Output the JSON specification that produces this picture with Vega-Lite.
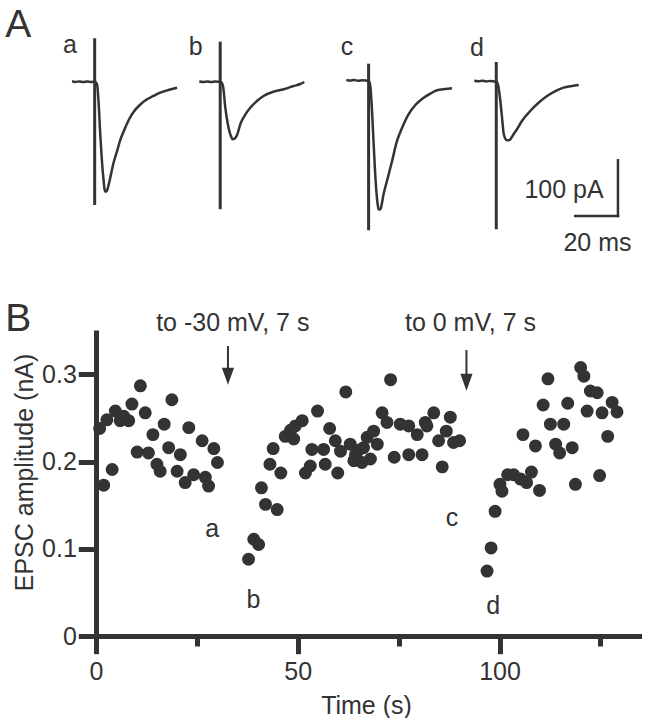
{
  "$schema": "https://vega.github.io/schema/vega-lite/v6.json",
  "padding": {"left": 5, "top": 5, "right": 0, "bottom": 0},
  "background": "white",
  "bounds": "flush",
  "spacing": 69,
  "config": {
    "view": {"stroke": null},
    "font": "Liberation Sans",
    "axis": {"labelFont": "Liberation Sans", "titleFont": "Liberation Sans", "grid": false}
  },
  "datasets": {
    "traces": [
      {"sweep": "a", "t": 33.6, "pA": -0.5}, {"sweep": "a", "t": 35.1, "pA": -1.6}, {"sweep": "a", "t": 37.0, "pA": -0.7}, {"sweep": "a", "t": 38.9, "pA": -1.8}, {"sweep": "a", "t": 40.7, "pA": -0.9}, {"sweep": "a", "t": 42.6, "pA": -1.6}, {"sweep": "a", "t": 44.3, "pA": -1.4}, {"sweep": "a", "t": 45.3, "pA": -5.9}, {"sweep": "a", "t": 46.0, "pA": -35.9}, {"sweep": "a", "t": 46.8, "pA": -95.2}, {"sweep": "a", "t": 47.6, "pA": -143.6}, {"sweep": "a", "t": 48.4, "pA": -179.5}, {"sweep": "a", "t": 48.8, "pA": -193.9}, {"sweep": "a", "t": 49.3, "pA": -198.7}, {"sweep": "a", "t": 49.9, "pA": -197.5}, {"sweep": "a", "t": 50.6, "pA": -188.5}, {"sweep": "a", "t": 51.5, "pA": -173.6}, {"sweep": "a", "t": 52.9, "pA": -149.0}, {"sweep": "a", "t": 54.7, "pA": -125.7}, {"sweep": "a", "t": 56.2, "pA": -105.9}, {"sweep": "a", "t": 58.5, "pA": -83.8}, {"sweep": "a", "t": 60.4, "pA": -68.2}, {"sweep": "a", "t": 62.4, "pA": -55.7}, {"sweep": "a", "t": 65.6, "pA": -42.2}, {"sweep": "a", "t": 68.7, "pA": -32.9}, {"sweep": "a", "t": 71.7, "pA": -26.9}, {"sweep": "a", "t": 74.9, "pA": -21.0}, {"sweep": "a", "t": 78.7, "pA": -16.2}, {"sweep": "a", "t": 82.8, "pA": -12.0},
      {"sweep": "b", "t": 93.2, "pA": -0.9}, {"sweep": "b", "t": 95.1, "pA": -1.8}, {"sweep": "b", "t": 97.0, "pA": -0.7}, {"sweep": "b", "t": 98.8, "pA": -2.0}, {"sweep": "b", "t": 100.7, "pA": -1.1}, {"sweep": "b", "t": 103.3, "pA": -1.8}, {"sweep": "b", "t": 104.3, "pA": -9.0}, {"sweep": "b", "t": 105.4, "pA": -47.9}, {"sweep": "b", "t": 106.9, "pA": -83.8}, {"sweep": "b", "t": 108.0, "pA": -98.7}, {"sweep": "b", "t": 108.8, "pA": -104.7}, {"sweep": "b", "t": 109.8, "pA": -103.2}, {"sweep": "b", "t": 110.9, "pA": -96.9}, {"sweep": "b", "t": 112.4, "pA": -77.7}, {"sweep": "b", "t": 114.8, "pA": -59.8}, {"sweep": "b", "t": 117.1, "pA": -47.9}, {"sweep": "b", "t": 120.2, "pA": -35.9}, {"sweep": "b", "t": 123.3, "pA": -26.9}, {"sweep": "b", "t": 128.0, "pA": -19.2}, {"sweep": "b", "t": 132.7, "pA": -14.9}, {"sweep": "b", "t": 137.4, "pA": -9.0}, {"sweep": "b", "t": 140.5, "pA": -5.4}, {"sweep": "b", "t": 142.4, "pA": -1.8},
      {"sweep": "c", "t": 162.1, "pA": 1.8}, {"sweep": "c", "t": 163.9, "pA": 0.7}, {"sweep": "c", "t": 165.8, "pA": 1.6}, {"sweep": "c", "t": 167.7, "pA": 0.5}, {"sweep": "c", "t": 169.6, "pA": 1.4}, {"sweep": "c", "t": 171.4, "pA": 0.7}, {"sweep": "c", "t": 172.6, "pA": 0.0}, {"sweep": "c", "t": 173.3, "pA": -9.0}, {"sweep": "c", "t": 174.1, "pA": -53.9}, {"sweep": "c", "t": 174.8, "pA": -107.7}, {"sweep": "c", "t": 175.6, "pA": -167.5}, {"sweep": "c", "t": 176.4, "pA": -209.5}, {"sweep": "c", "t": 176.8, "pA": -222.6}, {"sweep": "c", "t": 177.2, "pA": -230.3}, {"sweep": "c", "t": 177.8, "pA": -230.7}, {"sweep": "c", "t": 178.3, "pA": -227.5}, {"sweep": "c", "t": 179.5, "pA": -203.4}, {"sweep": "c", "t": 181.1, "pA": -179.5}, {"sweep": "c", "t": 183.5, "pA": -143.6}, {"sweep": "c", "t": 185.8, "pA": -107.7}, {"sweep": "c", "t": 188.2, "pA": -83.8}, {"sweep": "c", "t": 191.2, "pA": -59.8}, {"sweep": "c", "t": 194.4, "pA": -43.1}, {"sweep": "c", "t": 198.3, "pA": -30.0}, {"sweep": "c", "t": 201.4, "pA": -22.8}, {"sweep": "c", "t": 204.5, "pA": -16.7}, {"sweep": "c", "t": 208.4, "pA": -14.4}, {"sweep": "c", "t": 211.6, "pA": -13.1},
      {"sweep": "d", "t": 222.0, "pA": 0.4}, {"sweep": "d", "t": 223.9, "pA": -0.5}, {"sweep": "d", "t": 225.8, "pA": 0.5}, {"sweep": "d", "t": 227.6, "pA": -0.7}, {"sweep": "d", "t": 229.5, "pA": 0.2}, {"sweep": "d", "t": 231.4, "pA": -0.9}, {"sweep": "d", "t": 232.6, "pA": -1.8}, {"sweep": "d", "t": 233.4, "pA": -12.0}, {"sweep": "d", "t": 234.2, "pA": -35.9}, {"sweep": "d", "t": 235.0, "pA": -65.9}, {"sweep": "d", "t": 235.7, "pA": -92.8}, {"sweep": "d", "t": 236.5, "pA": -103.2}, {"sweep": "d", "t": 237.3, "pA": -106.5}, {"sweep": "d", "t": 238.2, "pA": -106.5}, {"sweep": "d", "t": 238.9, "pA": -104.7}, {"sweep": "d", "t": 240.4, "pA": -95.7}, {"sweep": "d", "t": 242.0, "pA": -86.7}, {"sweep": "d", "t": 244.3, "pA": -71.8}, {"sweep": "d", "t": 248.2, "pA": -53.9}, {"sweep": "d", "t": 252.1, "pA": -39.0}, {"sweep": "d", "t": 256.1, "pA": -26.9}, {"sweep": "d", "t": 260.0, "pA": -18.0}, {"sweep": "d", "t": 263.8, "pA": -12.0}, {"sweep": "d", "t": 267.8, "pA": -9.0}, {"sweep": "d", "t": 270.9, "pA": -7.2}
    ],
    "artifacts": [
      {"sweep": "a", "t": 44.2, "top": 76.7, "bottom": -222.6},
      {"sweep": "b", "t": 103.0, "top": 70.6, "bottom": -230.3},
      {"sweep": "c", "t": 172.5, "top": 31.1, "bottom": -268.0},
      {"sweep": "d", "t": 232.3, "top": 34.1, "bottom": -266.2}
    ],
    "scalebar": [
      {"t1": 289.3, "t2": 289.3, "p1": -142.4, "p2": -242.4},
      {"t1": 269.3, "t2": 289.3, "p1": -242.4, "p2": -242.4}
    ],
    "sweepLabels": [
      {"t": 32.6, "pA": 50.8, "text": "a"},
      {"t": 91.5, "pA": 46.7, "text": "b"},
      {"t": 162.4, "pA": 46.1, "text": "c"},
      {"t": 223.3, "pA": 44.9, "text": "d"}
    ],
    "scatter": [
      {"t": 0.9, "amp": 0.238}, {"t": 1.9, "amp": 0.173}, {"t": 4.0, "amp": 0.191}, {"t": 2.7, "amp": 0.248}, {"t": 4.8, "amp": 0.258}, {"t": 6.0, "amp": 0.247}, {"t": 6.9, "amp": 0.252}, {"t": 8.1, "amp": 0.247}, {"t": 8.9, "amp": 0.266}, {"t": 11.0, "amp": 0.287}, {"t": 12.2, "amp": 0.256}, {"t": 10.2, "amp": 0.211}, {"t": 13.0, "amp": 0.21}, {"t": 14.1, "amp": 0.231}, {"t": 16.9, "amp": 0.243}, {"t": 15.1, "amp": 0.197}, {"t": 15.9, "amp": 0.189}, {"t": 18.8, "amp": 0.271}, {"t": 18.0, "amp": 0.216}, {"t": 20.9, "amp": 0.208}, {"t": 20.1, "amp": 0.189}, {"t": 23.0, "amp": 0.239}, {"t": 22.1, "amp": 0.176}, {"t": 24.2, "amp": 0.185}, {"t": 26.3, "amp": 0.224}, {"t": 27.1, "amp": 0.182}, {"t": 29.2, "amp": 0.215}, {"t": 27.9, "amp": 0.172}, {"t": 30.1, "amp": 0.199},
      {"t": 37.8, "amp": 0.088}, {"t": 39.1, "amp": 0.111}, {"t": 40.3, "amp": 0.105}, {"t": 41.0, "amp": 0.17}, {"t": 42.0, "amp": 0.151}, {"t": 44.9, "amp": 0.145}, {"t": 43.1, "amp": 0.197}, {"t": 45.8, "amp": 0.187}, {"t": 43.9, "amp": 0.215}, {"t": 46.9, "amp": 0.229}, {"t": 48.2, "amp": 0.236}, {"t": 49.0, "amp": 0.226}, {"t": 49.4, "amp": 0.241}, {"t": 51.1, "amp": 0.247}, {"t": 54.9, "amp": 0.258}, {"t": 51.9, "amp": 0.187}, {"t": 53.1, "amp": 0.195}, {"t": 53.5, "amp": 0.214}, {"t": 56.4, "amp": 0.214}, {"t": 56.8, "amp": 0.197}, {"t": 57.9, "amp": 0.238}, {"t": 59.3, "amp": 0.224}, {"t": 59.9, "amp": 0.187}, {"t": 60.6, "amp": 0.212}, {"t": 61.9, "amp": 0.28}, {"t": 63.0, "amp": 0.22}, {"t": 64.3, "amp": 0.208}, {"t": 63.9, "amp": 0.201}, {"t": 65.0, "amp": 0.213}, {"t": 65.9, "amp": 0.199}, {"t": 66.3, "amp": 0.216}, {"t": 67.2, "amp": 0.228}, {"t": 68.0, "amp": 0.203}, {"t": 68.8, "amp": 0.235}, {"t": 69.7, "amp": 0.22}, {"t": 70.9, "amp": 0.256}, {"t": 72.1, "amp": 0.245}, {"t": 73.0, "amp": 0.294}, {"t": 73.9, "amp": 0.205}, {"t": 75.4, "amp": 0.243}, {"t": 77.5, "amp": 0.241}, {"t": 77.5, "amp": 0.208}, {"t": 79.6, "amp": 0.231}, {"t": 80.8, "amp": 0.208}, {"t": 81.6, "amp": 0.245}, {"t": 82.0, "amp": 0.241}, {"t": 83.7, "amp": 0.256}, {"t": 84.9, "amp": 0.224}, {"t": 85.8, "amp": 0.194}, {"t": 86.8, "amp": 0.235}, {"t": 87.8, "amp": 0.251}, {"t": 88.6, "amp": 0.222}, {"t": 90.1, "amp": 0.224},
      {"t": 96.9, "amp": 0.0745}, {"t": 97.9, "amp": 0.101}, {"t": 98.9, "amp": 0.143}, {"t": 100.1, "amp": 0.174}, {"t": 100.6, "amp": 0.166}, {"t": 102.0, "amp": 0.185}, {"t": 103.5, "amp": 0.185}, {"t": 105.2, "amp": 0.18}, {"t": 106.7, "amp": 0.176}, {"t": 107.9, "amp": 0.188}, {"t": 109.9, "amp": 0.167}, {"t": 105.8, "amp": 0.231}, {"t": 108.9, "amp": 0.218}, {"t": 110.8, "amp": 0.265}, {"t": 112.0, "amp": 0.295}, {"t": 112.6, "amp": 0.243}, {"t": 113.9, "amp": 0.22}, {"t": 114.9, "amp": 0.21}, {"t": 115.9, "amp": 0.243}, {"t": 116.9, "amp": 0.267}, {"t": 118.0, "amp": 0.216}, {"t": 118.8, "amp": 0.174}, {"t": 120.1, "amp": 0.308}, {"t": 120.9, "amp": 0.298}, {"t": 122.5, "amp": 0.281}, {"t": 124.2, "amp": 0.279}, {"t": 121.7, "amp": 0.258}, {"t": 125.4, "amp": 0.256}, {"t": 127.9, "amp": 0.268}, {"t": 129.1, "amp": 0.257}, {"t": 126.8, "amp": 0.229}, {"t": 124.8, "amp": 0.184}
    ],
    "arrows": [
      {"t": 32.7, "top": 0.3326, "bottom": 0.3, "head": 0.2979},
      {"t": 91.8, "top": 0.328, "bottom": 0.295, "head": 0.291}
    ],
    "notesB": [
      {"t": 28.8, "amp": 0.1135, "text": "a"},
      {"t": 39.0, "amp": 0.032, "text": "b"},
      {"t": 88.2, "amp": 0.126, "text": "c"},
      {"t": 98.4, "amp": 0.0256, "text": "d"},
      {"t": 33.9, "amp": 0.3498, "text": "to -30 mV, 7 s"},
      {"t": 92.8, "amp": 0.3498, "text": "to 0 mV, 7 s"}
    ]
  },
  "vconcat": [
    {
      "width": 546,
      "height": 240,
      "layer": [
        {
          "data": {"name": "traces"},
          "mark": {"type": "line", "color": "#333333", "strokeWidth": 2.5, "interpolate": "monotone"},
          "encoding": {
            "x": {"field": "t", "type": "quantitative", "scale": {"domain": [44.82, 300.56], "nice": false, "zero": false}, "axis": null},
            "y": {"field": "pA", "type": "quantitative", "scale": {"domain": [-323.2, 107.7], "nice": false, "zero": false}, "axis": null},
            "detail": {"field": "sweep"}
          }
        },
        {
          "data": {"name": "artifacts"},
          "mark": {"type": "rule", "color": "#333333", "strokeWidth": 3},
          "encoding": {
            "x": {"field": "t", "type": "quantitative"},
            "y": {"field": "top", "type": "quantitative"},
            "y2": {"field": "bottom"}
          }
        },
        {
          "data": {"name": "scalebar"},
          "mark": {"type": "rule", "color": "#333333", "strokeWidth": 2.5, "strokeCap": "square"},
          "encoding": {
            "x": {"field": "t1", "type": "quantitative"},
            "x2": {"field": "t2"},
            "y": {"field": "p1", "type": "quantitative"},
            "y2": {"field": "p2"}
          }
        },
        {
          "data": {"name": "sweepLabels"},
          "mark": {"type": "text", "fontSize": 25, "color": "#333333", "align": "center", "baseline": "alphabetic"},
          "encoding": {
            "x": {"field": "t", "type": "quantitative"},
            "y": {"field": "pA", "type": "quantitative"},
            "text": {"field": "text"}
          }
        },
        {
          "data": {"values": [{"t": 282.6, "pA": -209.5, "text": "100 pA"}]},
          "mark": {"type": "text", "fontSize": 25, "color": "#333333", "align": "right", "baseline": "alphabetic"},
          "encoding": {
            "x": {"field": "t", "type": "quantitative"},
            "y": {"field": "pA", "type": "quantitative"},
            "text": {"field": "text"}
          }
        },
        {
          "data": {"values": [{"t": 279.7, "pA": -305.2, "text": "20 ms"}]},
          "mark": {"type": "text", "fontSize": 25, "color": "#333333", "align": "center", "baseline": "alphabetic"},
          "encoding": {
            "x": {"field": "t", "type": "quantitative"},
            "y": {"field": "pA", "type": "quantitative"},
            "text": {"field": "text"}
          }
        },
        {
          "data": {"values": [{"t": 2.34, "pA": 79.0, "text": "A"}]},
          "mark": {"type": "text", "fontSize": 39, "color": "#333333", "align": "left", "baseline": "alphabetic"},
          "encoding": {
            "x": {"field": "t", "type": "quantitative"},
            "y": {"field": "pA", "type": "quantitative"},
            "text": {"field": "text"}
          }
        }
      ]
    },
    {
      "width": 546,
      "height": 306,
      "layer": [
        {
          "data": {"name": "scatter"},
          "mark": {"type": "circle", "color": "#333333", "opacity": 1, "size": 168},
          "encoding": {
            "x": {
              "field": "t", "type": "quantitative",
              "scale": {"domain": [0, 135.3], "nice": false, "zero": false},
              "axis": {
                "values": [0, 25, 50, 75, 100, 125],
                "labelExpr": "datum.value % 50 === 0 ? datum.label : ''",
                "format": "d",
                "tickSize": {"condition": {"test": "datum.value % 50 === 0", "value": 17.7}, "value": 10},
                "tickWidth": 5, "tickColor": "#333333",
                "domainWidth": 5, "domainColor": "#333333",
                "labelFontSize": 25, "labelColor": "#333333", "labelPadding": 6,
                "labelFlush": false, "labelOverlap": false, "labelBound": false,
                "title": "Time (s)", "titleFontSize": 25, "titleFontWeight": "normal", "titleColor": "#333333",
                "titleX": 270, "titleY": 77, "titleBaseline": "alphabetic", "titleAlign": "center"
              }
            },
            "y": {
              "field": "amp", "type": "quantitative",
              "scale": {"domain": [0, 0.351], "nice": false, "zero": false},
              "axis": {
                "values": [0, 0.1, 0.2, 0.3],
                "labelExpr": "datum.value === 0 ? '0' : format(datum.value, '.1f')",
                "tickSize": 17.7, "tickWidth": 5, "tickColor": "#333333",
                "domainWidth": 5, "domainColor": "#333333",
                "labelFontSize": 25, "labelColor": "#333333", "labelPadding": 2,
                "labelFlush": false, "labelOverlap": false, "labelBound": false,
                "title": "EPSC amplitude (nA)", "titleFontSize": 25, "titleFontWeight": "normal", "titleColor": "#333333",
                "titleX": -64, "titleY": 142, "titleBaseline": "alphabetic", "titleAlign": "center", "titleAngle": 270
              }
            }
          }
        },
        {
          "data": {"name": "arrows"},
          "mark": {"type": "rule", "color": "#333333", "strokeWidth": 2},
          "encoding": {
            "x": {"field": "t", "type": "quantitative"},
            "y": {"field": "top", "type": "quantitative"},
            "y2": {"field": "bottom"}
          }
        },
        {
          "data": {"name": "arrows"},
          "mark": {"type": "point", "shape": "M-0.72,-1L0.72,-1L0,1Z", "filled": true, "color": "#333333", "opacity": 1, "size": 289, "strokeWidth": 0},
          "encoding": {
            "x": {"field": "t", "type": "quantitative"},
            "y": {"field": "head", "type": "quantitative"}
          }
        },
        {
          "data": {"name": "notesB"},
          "mark": {"type": "text", "fontSize": 25, "color": "#333333", "align": "center", "baseline": "alphabetic"},
          "encoding": {
            "x": {"field": "t", "type": "quantitative"},
            "y": {"field": "amp", "type": "quantitative"},
            "text": {"field": "text"}
          }
        },
        {
          "data": {"values": [{"t": -22.48, "amp": 0.3498, "text": "B"}]},
          "mark": {"type": "text", "fontSize": 39, "color": "#333333", "align": "left", "baseline": "alphabetic"},
          "encoding": {
            "x": {"field": "t", "type": "quantitative"},
            "y": {"field": "amp", "type": "quantitative"},
            "text": {"field": "text"}
          }
        }
      ]
    }
  ]
}
